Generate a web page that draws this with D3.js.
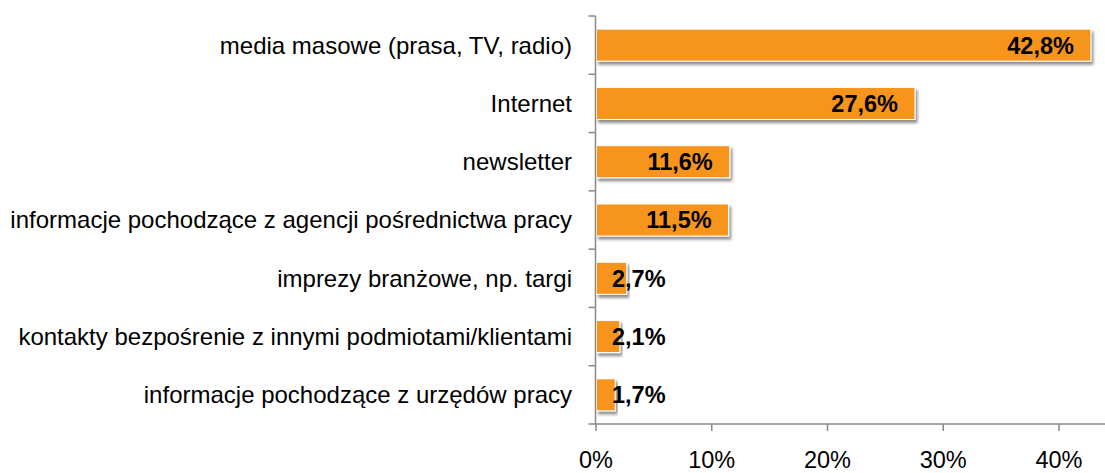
<!DOCTYPE html>
<html lang="pl">
<head>
    <meta charset="UTF-8">
    <title>Źródła informacji</title>
    <script src="https://d3js.org/d3.v7.min.js"></script>
    <style>
        body { margin: 0; background: #fff; font-family: Arial, "Liberation Sans", sans-serif; }
        .cat { font-size: 24px; fill: #000; }
        .val { font-size: 23.5px; font-weight: bold; fill: #000; }
        .tick text { font-size: 23.5px; fill: #000; font-family: Arial, "Liberation Sans", sans-serif; }
        .axis path, .axis line { stroke: #898989; stroke-width: 1.5; }
    </style>
</head>
<body>
    <div id="chart"></div>
    <script>
        var categories = [
            "media masowe (prasa, TV, radio)",
            "Internet",
            "newsletter",
            "informacje pochodzące z agencji pośrednictwa pracy",
            "imprezy branżowe, np. targi",
            "kontakty bezpośrenie z innymi podmiotami/klientami",
            "informacje pochodzące z urzędów pracy"
        ];
        var values = [42.8, 27.6, 11.6, 11.5, 2.7, 2.1, 1.7];
        var xTicks = [0, 10, 20, 30, 40];

        var W = 1105, H = 473;
        var x0 = 595.5, x40 = 1058.5, plotTop = 16, plotBottom = 424;

        var svg = d3.select("#chart").append("svg")
            .attr("width", W)
            .attr("height", H);

        var defs = svg.append("defs");
        var f = defs.append("filter").attr("id", "shadow")
            .attr("x", "-5%").attr("y", "-30%").attr("width", "115%").attr("height", "170%");
        f.append("feDropShadow")
            .attr("dx", 2).attr("dy", 3).attr("stdDeviation", 1.8)
            .attr("flood-color", "#000").attr("flood-opacity", 0.45);

        var x = d3.scaleLinear().domain([0, 40]).range([x0, x40]);
        var y = d3.scaleBand().domain(categories).range([plotTop, plotBottom]).paddingInner(0.45).paddingOuter(0.225);
        var yTicks = d3.scaleBand().domain(categories).range([plotTop, plotBottom]);

        // bars
        svg.selectAll("rect.bar")
            .data(values)
            .enter().append("rect")
            .attr("class", "bar")
            .attr("x", x(0) + 1)
            .attr("y", function(d, i) { return y(categories[i]); })
            .attr("width", function(d) { return x(d) - x(0) - 1; })
            .attr("height", y.bandwidth())
            .attr("fill", "#F7941D")
            .attr("stroke", "#fff")
            .attr("stroke-width", 1)
            .attr("filter", "url(#shadow)");

        // y axis with ticks at band edges
        var ya = svg.append("g").attr("class", "axis");
        ya.append("line")
            .attr("x1", x0).attr("x2", x0)
            .attr("y1", plotTop).attr("y2", plotBottom);
        var edges = categories.map(function(c) { return yTicks(c); }).concat([plotBottom]);
        ya.selectAll("line.tk")
            .data(edges)
            .enter().append("line")
            .attr("class", "tk")
            .attr("x1", x0 - 7).attr("x2", x0)
            .attr("y1", function(d) { return d; })
            .attr("y2", function(d) { return d; });

        // category labels
        svg.selectAll("text.cat")
            .data(categories)
            .enter().append("text")
            .attr("class", "cat")
            .attr("x", 572)
            .attr("y", function(d) { return yTicks(d) + yTicks.bandwidth() / 2; })
            .attr("dy", "0.35em")
            .attr("text-anchor", "end")
            .text(function(d) { return d; });

        // x axis
        var xAxis = d3.axisBottom(x)
            .tickValues(xTicks)
            .tickSize(7)
            .tickPadding(20)
            .tickFormat(function(d) { return d + "%"; });
        var xa = svg.append("g")
            .attr("class", "axis")
            .attr("transform", "translate(0," + plotBottom + ")")
            .call(xAxis);
        xa.select(".domain").attr("d", "M" + x0 + ",0H" + W);

        // value labels
        var fmt = function(d) { return d.toFixed(1).replace(".", ",") + "%"; };
        svg.selectAll("text.val")
            .data(values)
            .enter().append("text")
            .attr("class", "val")
            .attr("y", function(d, i) { return y(categories[i]) + y.bandwidth() / 2; })
            .attr("dy", "0.36em")
            .text(fmt)
            .each(function(d) {
                var w = this.getComputedTextLength();
                var end = Math.max(x(d) - 17, x0 + 16.5 + w);
                d3.select(this).attr("x", end - w);
            });
    </script>
</body>
</html>
